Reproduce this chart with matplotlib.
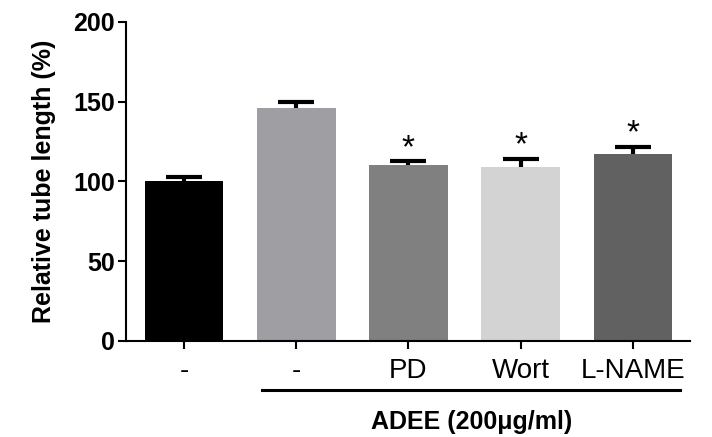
import matplotlib
matplotlib.use("Agg")
import matplotlib.pyplot as plt

# data
labels = ["-", "-", "PD", "Wort", "L-NAME"]
values = [100, 146, 110, 109, 117]
errors = [3, 3.5, 2.5, 5, 4.5]
signif = [False, False, True, True, True]
colors = ["#000000", "#9e9ea3", "#808080", "#d3d3d3", "#616161"]

plt.rcParams['font.family'] = ['Liberation Sans', 'DejaVu Sans']

fig = plt.figure(figsize=(7.12, 4.37), dpi=100)
ax = fig.add_axes([0.177, 0.22, 0.792, 0.73])

x = range(len(values))
ax.bar(x, values, width=0.7, color=colors, zorder=2)
# lower half sits behind the bars
ax.errorbar(x, values, yerr=errors, fmt='none',
            ecolor='black', elinewidth=3, capsize=13, capthick=3, zorder=1)

for i, (v, e, s) in enumerate(zip(values, errors, signif)):
    if s:
        ax.text(i, v + e - 1.5, "*", ha='center', va='bottom', fontsize=24)

ax.set_xlim(-0.517, 4.508)
ax.set_ylim(0, 200)
ax.set_yticks([0, 50, 100, 150, 200])
ax.set_xticks(list(x))
ax.set_xticklabels(labels, fontsize=20)
for t in ax.get_yticklabels():
    t.set_fontsize(18)
    t.set_fontweight('bold')

ax.spines['top'].set_visible(False)
ax.spines['right'].set_visible(False)
ax.spines['left'].set_linewidth(1.5)
ax.spines['bottom'].set_linewidth(1.5)
ax.tick_params(axis='both', length=6, width=1.5, direction='out')
ax.tick_params(axis='x', pad=6)
ax.tick_params(axis='y', pad=2)

ax.set_ylabel("Relative tube length (%)", fontsize=18, fontweight='bold', labelpad=12)

# group line and label
tr = ax.get_xaxis_transform()
ax.plot([0.695, 4.42], [-0.154, -0.154], color='black', lw=2.2, transform=tr, clip_on=False)
ax.text(2.56, -0.255, "ADEE (200\u03bcg/ml)", transform=tr, ha='center', va='center',
        fontsize=18, fontweight='bold')

fig.savefig("out.png", dpi=100)
